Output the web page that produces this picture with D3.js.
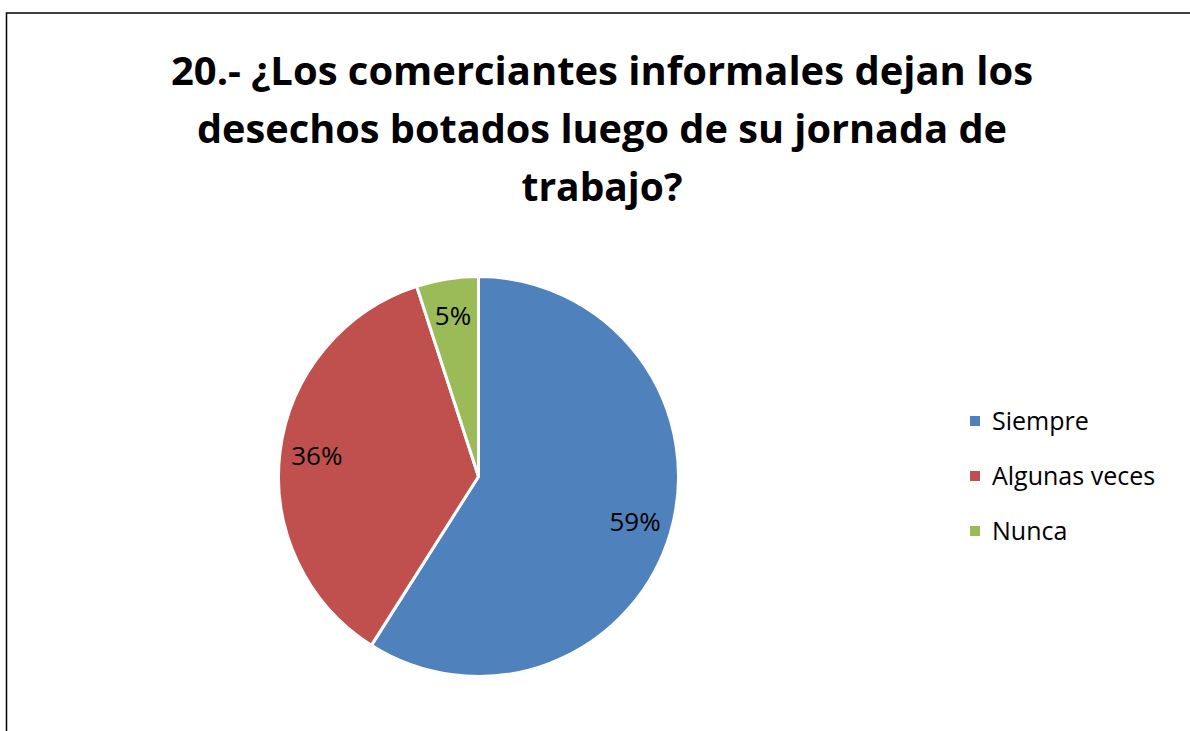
<!DOCTYPE html>
<html lang="es">
<head>
  <meta charset="UTF-8">
  <title>Pie</title>
  <style>
    body { margin: 0; background: #fff; }
    text { font-family: "Open Sans", "Liberation Sans", sans-serif; }
  </style>
</head>
<body>
  <svg id="svg" width="1190" height="731"></svg>

  <script src="https://d3js.org/d3.v7.min.js"></script>
  <script>
    const categories = ["Siempre", "Algunas veces", "Nunca"]
    const values = [59, 36, 5]
    const colors = ["#4F81BD", "#C0504D", "#9BBB59"]
    const titleLines = [
      "20.- ¿Los comerciantes informales dejan los",
      "desechos botados luego de su jornada de",
      "trabajo?"
    ]

    const svg = d3.select("#svg")

    // chart area border (runs off the right and bottom edge)
    svg.append("rect")
      .attr("x", 6.5)
      .attr("y", 13)
      .attr("width", 1200)
      .attr("height", 760)
      .attr("fill", "#fff")
      .attr("stroke", "#000")
      .attr("stroke-width", 1.5)

    // title
    const titleWidths = [862, 810, 161]
    svg.selectAll(".title")
      .data(titleLines)
      .enter()
      .append("text")
      .attr("class", "title")
      .attr("x", 602)
      .attr("y", (d, i) => 85 + i * 58)
      .attr("text-anchor", "middle")
      .style("font-size", "39px")
      .style("font-weight", "bold")
      .attr("textLength", (d, i) => titleWidths[i])
      .attr("lengthAdjust", "spacingAndGlyphs")
      .text(d => d)

    // pie
    const cx = 478.5, cy = 476.5, r = 200
    const pie = d3.pie().sort(null).value(d => d)
    const arcs = pie(values)
    const arc = d3.arc().innerRadius(0).outerRadius(r)
    const labelArc = d3.arc().innerRadius(163).outerRadius(163)

    const g = svg.append("g").attr("transform", `translate(${cx},${cy})`)

    g.selectAll("path")
      .data(arcs)
      .enter()
      .append("path")
      .attr("d", arc)
      .attr("fill", (d, i) => colors[i])
      .attr("stroke", "#fff")
      .attr("stroke-width", 3)
      .attr("stroke-linejoin", "round")

    g.selectAll(".lbl")
      .data(arcs)
      .enter()
      .append("text")
      .attr("class", "lbl")
      .attr("transform", d => `translate(${labelArc.centroid(d)})`)
      .attr("text-anchor", "middle")
      .attr("dy", "0.35em")
      .style("font-size", "26px")
      .text(d => d.data + "%")

    // legend
    const legend = svg.selectAll(".leg")
      .data(categories)
      .enter()
      .append("g")
      .attr("class", "leg")
      .attr("transform", (d, i) => `translate(970, ${421 + i * 55})`)

    legend.append("rect")
      .attr("x", 0)
      .attr("y", -5)
      .attr("width", 10)
      .attr("height", 10)
      .attr("fill", (d, i) => colors[i])

    legend.append("text")
      .attr("x", 22)
      .attr("dy", "0.35em")
      .style("font-size", "25px")
      .text(d => d)
  </script>
</body>
</html>
